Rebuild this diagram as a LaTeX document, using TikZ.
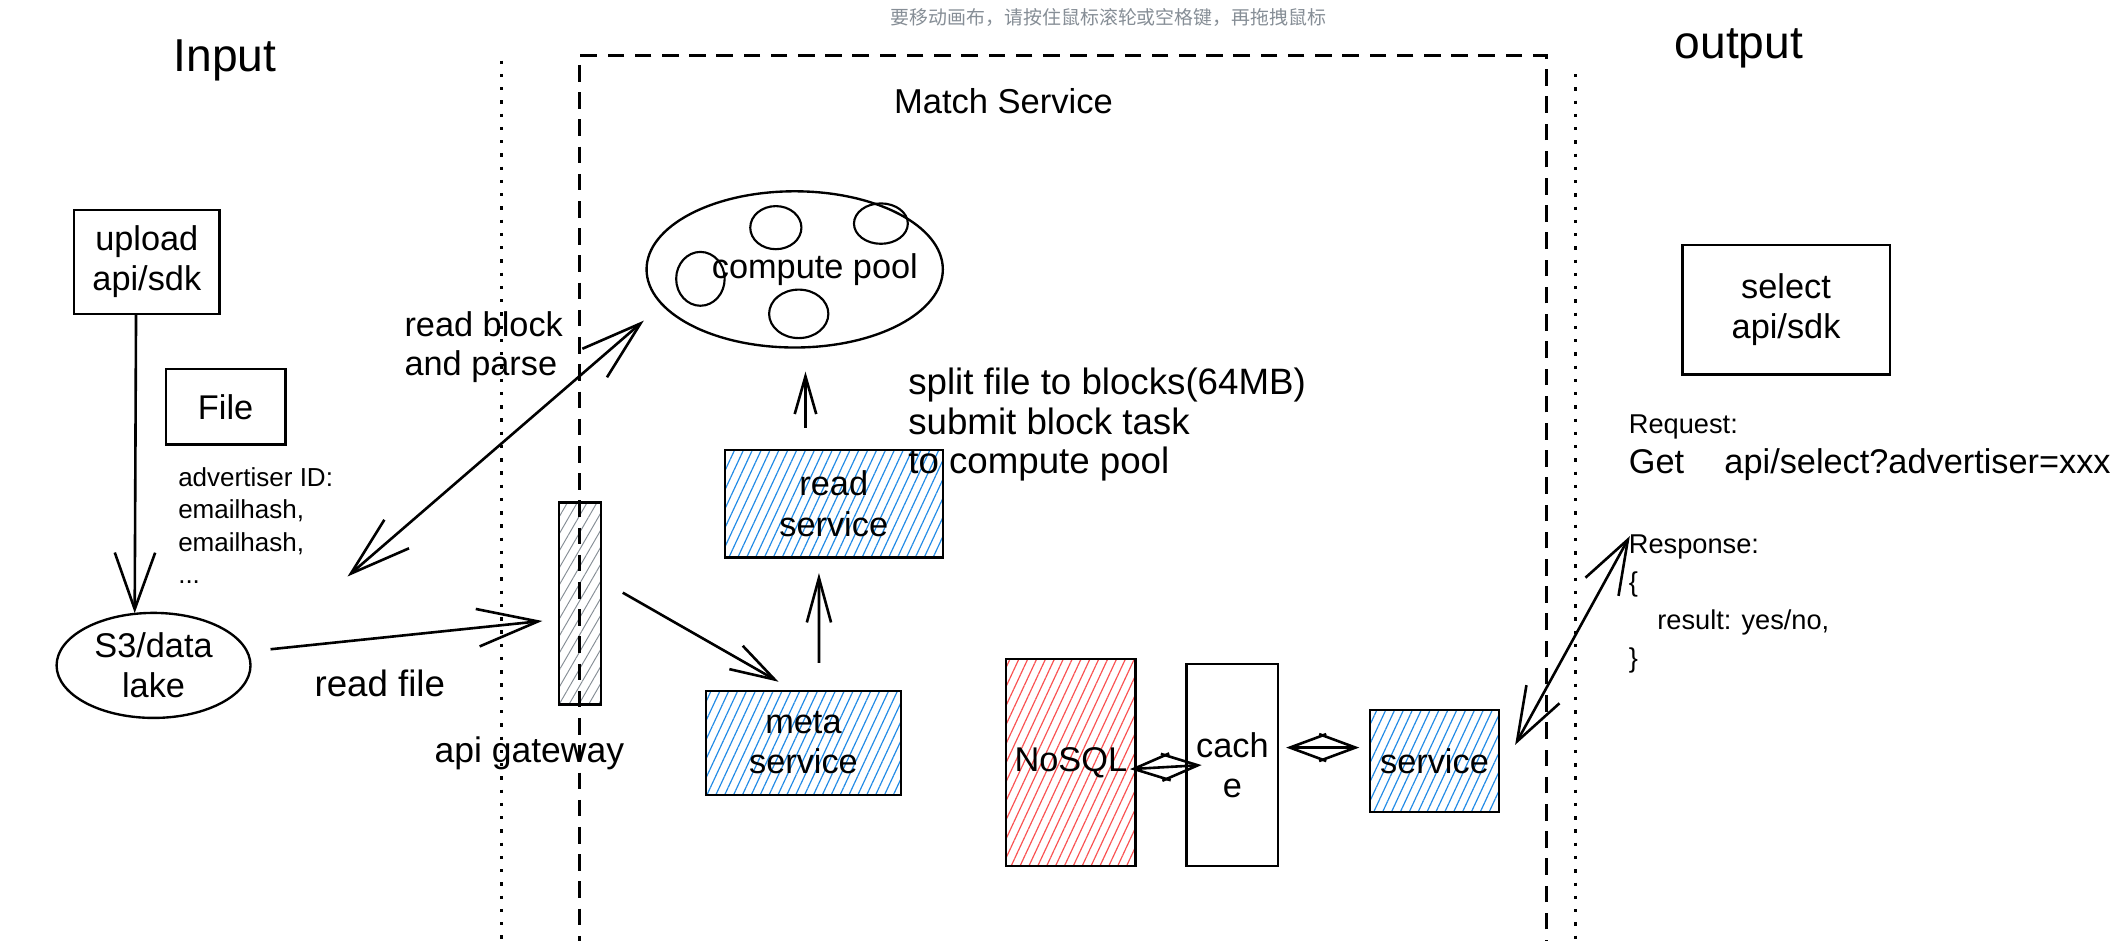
\documentclass[tikz,border=0pt]{standalone}
\usepackage{fontspec}
\setmainfont{Liberation Sans}
\newfontfamily\cjkfont{Noto Sans CJK SC}
\usetikzlibrary{arrows.meta,patterns.meta,shapes.geometric}
\definecolor{hblue}{RGB}{34,139,230}
\definecolor{hred}{RGB}{250,82,82}
\definecolor{hgray}{RGB}{134,142,150}
\definecolor{hintgray}{RGB}{134,142,150}
\begin{document}
\begin{tikzpicture}[x=0.02cm,y=-0.02cm,
  box/.style={draw, line width=1pt, inner sep=0pt, align=center, font=\fontsize{14.5}{17}\selectfont},
  bluefill/.style={pattern={Lines[angle=65,distance=3.4pt,line width=0.5pt]}, pattern color=hblue},
  redfill/.style={pattern={Lines[angle=65,distance=3.4pt,line width=0.5pt]}, pattern color=hred},
  grayfill/.style={pattern={Lines[angle=60,distance=3.6pt,line width=0.4pt]}, pattern color=hgray},
  ttl/.style={font=\fontsize{19.5}{23}\selectfont},
  midtxt/.style={font=\fontsize{14.5}{16.4}\selectfont, align=left, inner sep=0pt},
  bigtxt/.style={font=\fontsize{15.5}{16.6}\selectfont, align=left, inner sep=0pt},
  smalltxt/.style={font=\fontsize{11}{13.6}\selectfont, align=left, inner sep=0pt},
  reqtxt/.style={font=\fontsize{11.5}{16}\selectfont, align=left, inner sep=0pt},
  gettxt/.style={font=\fontsize{14.5}{16}\selectfont, align=left, inner sep=0pt},
  arr/.style={line width=1.1pt},
  dotline/.style={line width=1.3pt, dash pattern=on 1.4pt off 4.2pt},
  dashbox/.style={draw, line width=1.2pt, dash pattern=on 7pt off 4.5pt, inner sep=0pt},
  ring/.style={draw, ellipse, line width=0.9pt, inner sep=0pt}
]
\useasboundingbox (0,0) rectangle (1568,698);
\clip (0,0) rectangle (1568,698);
\fill[white] (0,0) rectangle (1568,698);

\node[font=\cjkfont\fontsize{8}{10}\selectfont, text=hintgray] (hint) at (823,13) {要移动画布，请按住鼠标滚轮或空格键，再拖拽鼠标};

\node[ttl] (input) at (167,45) {Input};
\node[ttl] (output) at (1291,36) {output};

% dotted separators
\draw[dotline] (372,45) -- (372,698);
\draw[dotline] (1170,55) -- (1170,698);

% api gateway bar
\node[box, grayfill, minimum width=0.62cm, minimum height=3cm] (gw) at (430.5,448) {};

% Match Service frame
\node[dashbox, minimum width=14.36cm, minimum height=13.98cm] (ms) at (789,390.5) {};
\node[font=\fontsize{14.6}{17}\selectfont] (mstitle) at (745,75) {Match Service};

% input side
\node[box, minimum width=2.16cm, minimum height=1.54cm] (upload) at (109,194.5) {upload\\api/sdk};
\node[box, minimum width=1.78cm, minimum height=1.12cm] (file) at (167.5,302) {File};
\node[smalltxt, anchor=north west] (adv) at (132,347) {advertiser ID:\\emailhash,\\emailhash,\\...};
\node[box, ellipse, minimum width=2.88cm, minimum height=1.56cm] (s3) at (114,494) {S3/data\\lake};

\node[midtxt, anchor=north west] (rblab) at (300,231) {read block\\and parse};
\node[bigtxt] (rflab) at (282,507) {read file};
\node[font=\fontsize{15}{17}\selectfont] (gwlab) at (393,559) {api gateway};

% compute pool
\node[box, ellipse, minimum width=4.4cm, minimum height=2.32cm] (cp) at (590,200) {};
\node[ring, minimum width=0.76cm, minimum height=0.64cm] (c1) at (576,169) {};
\node[ring, minimum width=0.8cm, minimum height=0.6cm] (c2) at (654,166) {};
\node[ring, minimum width=0.72cm, minimum height=0.8cm] (c3) at (520,207) {};
\node[ring, minimum width=0.88cm, minimum height=0.72cm] (c4) at (593,233) {};
\node[font=\fontsize{14.5}{17}\selectfont] (cptxt) at (605,200) {compute pool};

% services
\node[box, bluefill, minimum width=3.24cm, minimum height=1.6cm] (rs) at (619,374) {read\\service};
\node[bigtxt, anchor=north west] (split) at (674,273) {split file to blocks(64MB)\\submit block task\\to compute pool};
\node[box, bluefill, minimum width=2.9cm, minimum height=1.54cm] (meta) at (596.5,551.5) {meta\\service};
\node[box, redfill, minimum width=1.92cm, minimum height=3.08cm] (nosql) at (795,566) {NoSQL};
\node[box, minimum width=1.36cm, minimum height=3cm] (cache) at (915,568) {cach\\e};
\node[box, bluefill, minimum width=1.92cm, minimum height=1.52cm] (svc) at (1065,565) {service};

% output side
\node[box, minimum width=3.08cm, minimum height=1.92cm] (select) at (1326,230) {select\\api/sdk};
\node[reqtxt, anchor=west] (req) at (1209,317) {Request:};
\node[gettxt, anchor=west] (getline) at (1209,345) {Get\hspace*{17pt}api/select?advertiser=xxx};
\node[reqtxt, anchor=north west] (resp) at (1209,397) {Response:\\\{\\\hspace*{12pt}result: yes/no,\\\}};

% connectors
\draw[arr, -{Straight Barb[length=0.84cm,width=0.6cm]}] ([shift={(-8,0)}]upload.south) -- ([shift={(-14,1)}]s3.north);
\draw[arr, -{Straight Barb[length=0.9cm,width=0.56cm]}] ([shift={(14,-12)}]s3.east) -- ([shift={(-12,13)}]gw.west);
\coordinate (rbend) at (258,428);
\draw[arr, {Straight Barb[length=0.9cm,width=0.56cm]}-{Straight Barb[length=0.9cm,width=0.56cm]}] (rbend) -- ([shift={(-112,38)}]cp.center);
\draw[arr, -{Straight Barb[length=0.66cm,width=0.4cm]}] ([shift={(16,-8)}]gw.east) -- ([shift={(-18.5,-6)}]meta.north);
\draw[arr, -{Straight Barb[length=0.66cm,width=0.36cm]}] ([shift={(11.5,-20)}]meta.north) -- ([shift={(-11,11)}]rs.south);
\draw[arr, -{Straight Barb[length=0.56cm,width=0.32cm]}] ([shift={(-21,-16)}]rs.north) -- ([shift={(8,17)}]cp.south);
\draw[arr, {Straight Barb[length=0.54cm,width=0.4cm]}-{Straight Barb[length=0.54cm,width=0.4cm]}] ([shift={(-5,5)}]nosql.east) -- ([shift={(12,0)}]cache.west);
\draw[arr, {Straight Barb[length=0.54cm,width=0.4cm]}-{Straight Barb[length=0.54cm,width=0.4cm]}] ([shift={(5,-13)}]cache.east) -- ([shift={(-7,-10)}]svc.west);
\draw[arr, {Straight Barb[length=0.8cm,width=0.56cm]}-{Straight Barb[length=0.8cm,width=0.56cm]}] ([shift={(11,-12)}]svc.east) -- ([shift={(1,1)}]resp.north west);
\end{tikzpicture}
\end{document}
